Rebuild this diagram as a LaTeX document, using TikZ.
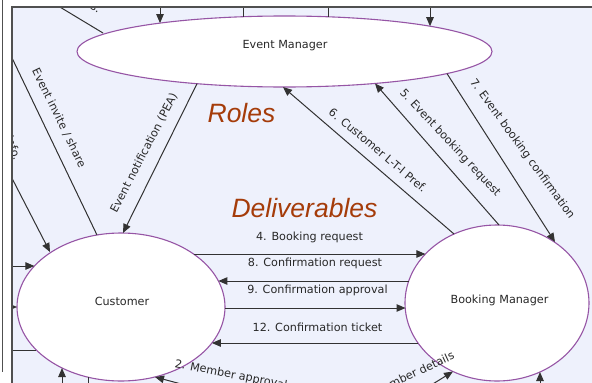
\documentclass[tikz,border=0pt]{standalone}
\usepackage{fontspec}
\setmainfont{DejaVu Sans}
\newfontfamily\rolefont{Liberation Sans}
\usetikzlibrary{arrows.meta,shapes.geometric}
\definecolor{panelbg}{RGB}{238,241,252}
\definecolor{edgec}{RGB}{150,85,165}
\definecolor{linec}{RGB}{50,50,50}
\definecolor{txtc}{RGB}{40,40,40}
\definecolor{rolec}{RGB}{165,60,10}
\definecolor{framec}{RGB}{80,80,80}
\begin{document}
\begin{tikzpicture}[x=1pt,y=-1pt,
  ent/.style={draw=edgec, line width=1.1pt, fill=white, ellipse, inner sep=0pt},
  flow/.style={draw=linec, line width=1pt},
  arr/.style={flow, -{Triangle[length=9pt,width=7.5pt]}},
  lbl/.style={font=\fontsize{11.2}{13}\selectfont, text=txtc, inner sep=0pt},
  role/.style={font=\rolefont\itshape\fontsize{26.5}{30}\selectfont, text=rolec, inner sep=0pt}]
\useasboundingbox (0,0) rectangle (592,383);
\clip (0,0) rectangle (592,383);
\fill[white] (0,0) rectangle (592,383);
\draw[framec, line width=1.8pt] (2.5,0) -- (2.5,372);
\fill[panelbg] (12,7) rectangle (600,390);
\begin{scope}
\clip (12,7) rectangle (600,390);
% entities
\node[ent, minimum width=415pt, minimum height=71pt] (em) at (284.5,51.5) {};
\node[ent, minimum width=208pt, minimum height=148pt] (cu) at (121,307) {};
\node[ent, minimum width=184pt, minimum height=156pt] (bm) at (497,303) {};
\node[lbl] (emt) at (285,46) {Event Manager};
\node[lbl] (cut) at (122,301) {Customer};
\node[lbl] (bmt) at (499.5,300) {Booking Manager};
% connector end points
\coordinate (o1) at (30,-11);   \coordinate (em1) at (103,33);
\coordinate (o2) at (243,0);    \coordinate (em2) at (243,16.7);
\coordinate (o3) at (328,0);    \coordinate (em3) at (328,16.7);
\coordinate (o4) at (160,0);    \coordinate (em4) at (160,23.1);
\coordinate (o5) at (430,0);    \coordinate (em5) at (430,26.2);
\coordinate (o6) at (-5,22.5);  \coordinate (cu6) at (97,235);
\coordinate (o7) at (0,155);    \coordinate (cu7) at (50,252);
\coordinate (em8) at (197,83.7); \coordinate (cu8) at (123,233);
\coordinate (o9) at (0,266);    \coordinate (cu9) at (34.4,266);
\coordinate (o10) at (0,307);   \coordinate (cu10) at (17,307);
\coordinate (o11) at (0,350);   \coordinate (cu11) at (36.4,350);
\coordinate (o12) at (62,395);  \coordinate (cu12) at (62,368);
\coordinate (o13) at (88,395);  \coordinate (cu13) at (88,377);
\coordinate (o14) at (230,397); \coordinate (cu14) at (155,377);
\coordinate (cu15) at (193.6,254); \coordinate (bm15) at (425.4,254);
\coordinate (bm16) at (408.8,281); \coordinate (cu16) at (218.4,281);
\coordinate (cu17) at (225,308);   \coordinate (bm17) at (405.5,308);
\coordinate (bm18) at (418,343);   \coordinate (cu18) at (211.9,343);
\coordinate (bm19) at (454,234);   \coordinate (em19) at (283,87);
\coordinate (bm20) at (499,225);   \coordinate (em20) at (375,83.5);
\coordinate (em21) at (447,73.6);  \coordinate (bm21) at (555,242);
\coordinate (o22) at (415,395);    \coordinate (bm22) at (453,371.5);
\coordinate (o23) at (540,395);    \coordinate (bm23) at (540,372);
% connectors
\draw[flow] (o1) -- (em1);
\draw[flow] (o2) -- (em2);
\draw[flow] (o3) -- (em3);
\draw[arr] (o4) -- (em4);
\draw[arr] (o5) -- (em5);
\draw[flow] (cu6) -- (o6);
\draw[arr] (o7) -- (cu7);
\draw[arr] (em8) -- (cu8);
\draw[arr] (o9) -- (cu9);
\draw[arr] (o10) -- (cu10);
\draw[flow] (o11) -- (cu11);
\draw[arr] (o12) -- (cu12);
\draw[flow] (o13) -- (cu13);
\draw[arr] (o14) -- (cu14);
\draw[arr] (cu15) -- (bm15);
\draw[arr] (bm16) -- (cu16);
\draw[arr] (cu17) -- (bm17);
\draw[arr] (bm18) -- (cu18);
\draw[arr] (bm19) -- (em19);
\draw[arr] (bm20) -- (em20);
\draw[arr] (em21) -- (bm21);
\draw[arr] (o22) -- (bm22);
\draw[arr] (o23) -- (bm23);
% labels
\node[lbl, rotate=-31, anchor=base east] (l1) at (98,13) {Event details.};
\node[lbl, rotate=-70] (l7) at (13.7,148) {Info.};
\node[lbl, rotate=-64] (l6) at (59,118) {Event invite / share};
\node[lbl, rotate=62.5] (l8) at (144,153) {Event notification (PEA)};
\node[lbl, rotate=-40] (l19) at (378,150) {6. Customer L-T-I Pref.};
\node[lbl, rotate=-47] (l20) at (450,143) {5. Event booking request};
\node[lbl, rotate=-54] (l21) at (522,149) {7. Event booking confirmation};
\node[lbl] (l15) at (309.5,237) {4. Booking request};
\node[lbl] (l16) at (315,263) {8. Confirmation request};
\node[lbl] (l17) at (317.5,290) {9. Confirmation approval};
\node[lbl] (l18) at (317.5,327) {12. Confirmation ticket};
\node[lbl, rotate=-11] (l14) at (231,375) {2. Member approval};
\node[lbl, rotate=25] (l22) at (414,373) {Member details};
\node[role] (roles) at (241.5,113) {Roles};
\node[role] (deliv) at (304.5,208) {Deliverables};
\end{scope}
\draw[framec, line width=1.5pt] (12,390) -- (12,7) -- (600,7);
\end{tikzpicture}
\end{document}
